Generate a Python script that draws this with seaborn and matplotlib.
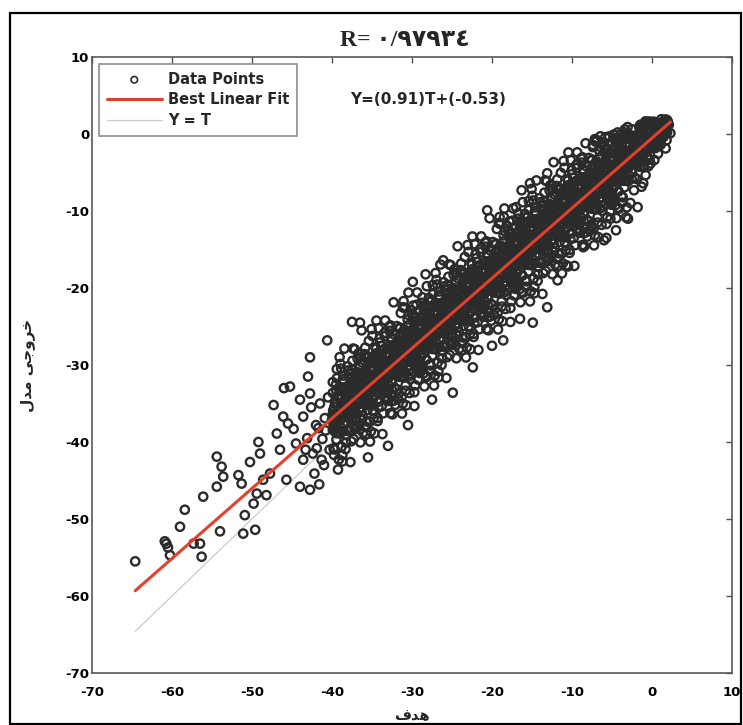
import matplotlib
matplotlib.use('Agg')
import matplotlib.pyplot as plt
from matplotlib.patches import Rectangle
import pandas as pd
import seaborn as sns


# regression summary shown on the chart
fit_slope = 0.91
fit_intercept = -0.53
r_title = 'R= \u0660/\u0669\u0667\u0669\u0663\u0664'
fit_text = 'Y=(0.91)T+(-0.53)'
x_label = '\ufed1\ufeaa\ufeeb'                                   # hadaf
y_label = '\ufedd\ufeaa\ufee3 \ufef0\ufe9f\ufeed\ufeae\ufea7'    # khorooji model
legend_labels = ['Data Points', 'Best Linear Fit', 'Y = T']
axis_ticks = [-70, -60, -50, -40, -30, -20, -10, 0, 10]

# (target, output) pairs

low_tail = [
    (-64.6, -55.5), (-60.7, -53.2), (-60.9, -52.9), (-60.5, -53.7), (-60.25, -54.7), (-59.0, -51.0),
    (-58.4, -48.8), (-57.3, -53.2), (-56.5, -53.2), (-56.3, -54.9), (-56.1, -47.1), (-54.0, -51.6),
    (-54.4, -41.9), (-53.8, -43.2), (-53.6, -44.5), (-54.4, -45.8), (-51.7, -44.3), (-51.3, -45.4),
    (-50.9, -49.5), (-51.1, -51.9), (-49.6, -51.4), (-50.25, -42.6), (-49.2, -40.0), (-49.0, -41.5),
    (-49.8, -48.0), (-49.4, -46.7), (-48.2, -46.9), (-48.6, -44.9), (-47.75, -44.1), (-46.9, -38.9),
    (-47.3, -35.2), (-46.1, -36.7), (-46.5, -41.0), (-45.7, -44.9), (-45.25, -32.8), (-44.0, -34.5),
    (-43.6, -36.7), (-43.6, -42.3), (-42.75, -46.2), (-44.0, -45.8), (-42.75, -33.7), (-44.5, -40.2),
    (-43.1, -39.5), (-42.2, -44.1), (-41.6, -45.5), (-41.0, -43.0), (-42.0, -37.8), (-43.0, -31.5),
    (-41.5, -35.0), (-40.6, -26.8), (-42.75, -29.0), (-40.3, -41.0), (-40.8, -38.5), (-41.9, -40.8),
    (-44.8, -38.3), (-45.5, -37.6), (-46.0, -33.0), (-41.2, -39.6), (-40.9, -36.9), (-41.7, -38.2),
    (-42.4, -41.5), (-40.5, -34.2), (-41.3, -42.3), (-43.3, -41.0), (-42.6, -35.5),
]

band_low = [
    (-39.9, -33.63), (-39.7, -37.43), (-39.5, -35.03), (-39.3, -38.83), (-39.1, -35.73), (-39.8, -40.83),
    (-39.4, -31.73), (-39.6, -38.43), (-39.2, -33.93), (-40.0, -37.13), (-39.45, -39.68), (-39.85, -35.88),
    (-39.95, -36.48), (-39.8, -37.73), (-39.65, -34.78), (-39.5, -38.83), (-39.35, -35.38), (-39.2, -36.43),
    (-39.05, -33.38), (-39.9, -38.43), (-39.7, -35.43), (-39.55, -37.08), (-39.4, -38.23), (-39.25, -34.08),
    (-39.1, -38.83), (-39.75, -36.68), (-39.45, -33.38), (-39.15, -37.28),
    (-38.95, -37.17), (-38.75, -33.27), (-38.55, -38.57), (-38.35, -34.77), (-38.15, -35.67), (-38.65, -31.87),
    (-38.25, -40.07), (-38.05, -33.37), (-38.5, -37.72), (-38.85, -30.47), (-38.4, -35.32), (-38.7, -41.72),
    (-38.88, -36.40), (-38.72, -34.14), (-38.58, -37.60), (-38.42, -35.24), (-38.28, -33.00), (-38.12, -36.44),
    (-38.98, -38.90), (-38.82, -32.94), (-38.62, -34.94), (-38.48, -36.40), (-38.32, -34.34), (-38.18, -38.40),
    (-38.02, -33.64), (-38.52, -32.14), (-38.38, -35.50), (-38.92, -38.14),
    (-38.0, -34.11), (-37.8, -36.91), (-37.6, -31.81), (-37.4, -35.41), (-37.2, -33.81), (-37.9, -38.61),
    (-37.5, -30.61), (-37.7, -34.61), (-37.3, -39.61), (-37.1, -32.31), (-37.55, -35.96), (-37.15, -27.96),
    (-37.95, -34.66), (-37.8, -35.91), (-37.65, -32.96), (-37.5, -37.01), (-37.35, -33.56), (-37.2, -34.61),
    (-37.05, -31.56), (-37.9, -36.61), (-37.7, -33.61), (-37.55, -35.26), (-37.4, -36.41), (-37.25, -32.26),
    (-37.1, -37.01), (-37.75, -34.86), (-37.45, -31.56), (-37.15, -35.46),
    (-36.9, -30.9), (-36.7, -34.7), (-36.5, -32.3), (-36.3, -36.1), (-36.1, -33.0), (-36.8, -38.1),
    (-36.4, -29.0), (-36.6, -35.7), (-36.2, -31.2), (-37.0, -34.4), (-36.45, -36.95), (-36.85, -33.15),
    (-36.88, -34.58), (-36.72, -32.32), (-36.58, -35.78), (-36.42, -33.42), (-36.28, -31.18), (-36.12, -34.62),
    (-36.98, -37.08), (-36.82, -31.12), (-36.62, -33.12), (-36.48, -34.58), (-36.32, -32.52), (-36.18, -36.58),
    (-36.02, -31.82), (-36.52, -30.32), (-36.38, -33.68), (-36.92, -36.32),
    (-35.95, -34.44), (-35.75, -30.54), (-35.55, -35.84), (-35.35, -32.04), (-35.15, -32.94), (-35.65, -29.14),
    (-35.25, -37.34), (-35.05, -30.64), (-35.5, -34.99), (-35.85, -27.74), (-35.4, -32.59), (-35.7, -38.99),
    (-35.95, -32.84), (-35.8, -34.09), (-35.65, -31.14), (-35.5, -35.19), (-35.35, -31.74), (-35.2, -32.79),
    (-35.05, -29.74), (-35.9, -34.79), (-35.7, -31.79), (-35.55, -33.44), (-35.4, -34.59), (-35.25, -30.44),
    (-35.1, -35.19), (-35.75, -33.04), (-35.45, -29.74), (-35.15, -33.64),
    (-35.0, -31.38), (-34.8, -34.18), (-34.6, -29.08), (-34.4, -32.68), (-34.2, -31.08), (-34.9, -35.88),
    (-34.5, -27.88), (-34.7, -31.88), (-34.3, -36.88), (-34.1, -29.58), (-34.55, -33.23), (-34.15, -25.23),
    (-34.88, -32.76), (-34.72, -30.5), (-34.58, -33.96), (-34.42, -31.6), (-34.28, -29.36), (-34.12, -32.8),
    (-34.98, -35.26), (-34.82, -29.3), (-34.62, -31.3), (-34.48, -32.76), (-34.32, -30.7), (-34.18, -34.76),
    (-34.02, -30.0), (-34.52, -28.5), (-34.38, -31.86), (-34.92, -34.5),
    (-33.9, -28.17), (-33.7, -31.97), (-33.5, -29.57), (-33.3, -33.37), (-33.1, -30.27), (-33.8, -35.37),
    (-33.4, -26.27), (-33.6, -32.97), (-33.2, -28.47), (-34.0, -31.67), (-33.45, -34.22), (-33.85, -30.42),
    (-33.95, -31.02), (-33.8, -32.27), (-33.65, -29.32), (-33.5, -33.37), (-33.35, -29.92), (-33.2, -30.97),
    (-33.05, -27.92), (-33.9, -32.97), (-33.7, -29.97), (-33.55, -31.62), (-33.4, -32.77), (-33.25, -28.62),
    (-33.1, -33.37), (-33.75, -31.22), (-33.45, -27.92), (-33.15, -31.82),
    (-32.95, -31.71), (-32.75, -27.81), (-32.55, -33.11), (-32.35, -29.31), (-32.15, -30.21), (-32.65, -26.41),
    (-32.25, -34.61), (-32.05, -27.91), (-32.5, -32.26), (-32.85, -25.01), (-32.4, -29.86), (-32.7, -36.26),
    (-32.88, -30.94), (-32.72, -28.68), (-32.58, -32.14), (-32.42, -29.78), (-32.28, -27.54), (-32.12, -30.98),
    (-32.98, -33.44), (-32.82, -27.48), (-32.62, -29.48), (-32.48, -30.94), (-32.32, -28.88), (-32.18, -32.94),
    (-32.02, -28.18), (-32.52, -26.68), (-32.38, -30.04), (-32.92, -32.68),
    (-32.0, -28.65), (-31.8, -31.45), (-31.6, -26.35), (-31.4, -29.95), (-31.2, -28.35), (-31.9, -33.15),
    (-31.5, -25.15), (-31.7, -29.15), (-31.3, -34.15), (-31.1, -26.85), (-31.55, -30.5), (-31.15, -22.5),
    (-31.95, -29.2), (-31.8, -30.45), (-31.65, -27.5), (-31.5, -31.55), (-31.35, -28.1), (-31.2, -29.15),
    (-31.05, -26.1), (-31.9, -31.15), (-31.7, -28.15), (-31.55, -29.8), (-31.4, -30.95), (-31.25, -26.8),
    (-31.1, -31.55), (-31.75, -29.4), (-31.45, -26.1), (-31.15, -30.0),
    (-30.9, -25.44), (-30.7, -29.24), (-30.5, -26.84), (-30.3, -30.64), (-30.1, -27.54), (-30.8, -32.64),
    (-30.4, -23.54), (-30.6, -30.24), (-30.2, -25.74), (-31.0, -28.94), (-30.45, -31.49), (-30.85, -27.69),
    (-30.88, -29.12), (-30.72, -26.86), (-30.58, -30.32), (-30.42, -27.96), (-30.28, -25.72), (-30.12, -29.16),
    (-30.98, -31.62), (-30.82, -25.66), (-30.62, -27.66), (-30.48, -29.12), (-30.32, -27.06), (-30.18, -31.12),
    (-30.02, -26.36), (-30.52, -24.86), (-30.38, -28.22), (-30.92, -30.86),
    (-29.95, -28.98), (-29.75, -25.08), (-29.55, -30.38), (-29.35, -26.58), (-29.15, -27.48), (-29.65, -23.68),
    (-29.25, -31.88), (-29.05, -25.18), (-29.5, -29.53), (-29.85, -22.28), (-29.4, -27.13), (-29.7, -33.53),
    (-29.95, -27.38), (-29.8, -28.63), (-29.65, -25.68), (-29.5, -29.73), (-29.35, -26.28), (-29.2, -27.33),
    (-29.05, -24.28), (-29.9, -29.33), (-29.7, -26.33), (-29.55, -27.98), (-29.4, -29.13), (-29.25, -24.98),
    (-29.1, -29.73), (-29.75, -27.58), (-29.45, -24.28), (-29.15, -28.18),
    (-29.0, -25.92), (-28.8, -28.72), (-28.6, -23.62), (-28.4, -27.22), (-28.2, -25.62), (-28.9, -30.42),
    (-28.5, -22.42), (-28.7, -26.42), (-28.3, -31.42), (-28.1, -24.12), (-28.55, -27.77), (-28.15, -19.77),
    (-28.88, -27.3), (-28.72, -25.04), (-28.58, -28.5), (-28.42, -26.14), (-28.28, -23.9), (-28.12, -27.34),
    (-28.98, -29.8), (-28.82, -23.84), (-28.62, -25.84), (-28.48, -27.3), (-28.32, -25.24), (-28.18, -29.3),
    (-28.02, -24.54), (-28.52, -23.04), (-28.38, -26.4), (-28.92, -29.04),
    (-27.9, -22.71), (-27.7, -26.51), (-27.5, -24.11), (-27.3, -27.91), (-27.1, -24.81), (-27.8, -29.91),
    (-27.4, -20.81), (-27.6, -27.51), (-27.2, -23.01), (-28.0, -26.21), (-27.45, -28.76), (-27.85, -24.96),
    (-27.95, -25.56), (-27.8, -26.81), (-27.65, -23.86), (-27.5, -27.91), (-27.35, -24.46), (-27.2, -25.51),
    (-27.05, -22.46), (-27.9, -27.51), (-27.7, -24.51), (-27.55, -26.16), (-27.4, -27.31), (-27.25, -23.16),
    (-27.1, -27.91), (-27.75, -25.76), (-27.45, -22.46), (-27.15, -26.36),
]

band_mid = [
    (-26.95, -26.25), (-26.75, -22.35), (-26.55, -27.65), (-26.35, -23.85), (-26.15, -24.75), (-26.65, -20.95),
    (-26.25, -29.15), (-26.05, -22.45), (-26.5, -26.8), (-26.85, -19.55), (-26.4, -24.4), (-26.7, -30.8),
    (-26.88, -25.48), (-26.72, -23.22), (-26.58, -26.68), (-26.42, -24.32), (-26.28, -22.08), (-26.12, -25.52),
    (-26.98, -27.98), (-26.82, -22.02), (-26.62, -24.02), (-26.48, -25.48), (-26.32, -23.42), (-26.18, -27.48),
    (-26.02, -22.72), (-26.52, -21.22), (-26.38, -24.58), (-26.92, -27.22),
    (-26.0, -23.19), (-25.8, -25.99), (-25.6, -20.89), (-25.4, -24.49), (-25.2, -22.89), (-25.9, -27.69),
    (-25.5, -19.69), (-25.7, -23.69), (-25.3, -28.69), (-25.1, -21.39), (-25.55, -25.04), (-25.15, -17.04),
    (-25.95, -23.74), (-25.8, -24.99), (-25.65, -22.04), (-25.5, -26.09), (-25.35, -22.64), (-25.2, -23.69),
    (-25.05, -20.64), (-25.9, -25.69), (-25.7, -22.69), (-25.55, -24.34), (-25.4, -25.49), (-25.25, -21.34),
    (-25.1, -26.09), (-25.75, -23.94), (-25.45, -20.64), (-25.15, -24.54),
    (-24.9, -19.98), (-24.7, -23.78), (-24.5, -21.38), (-24.3, -25.18), (-24.1, -22.08), (-24.8, -27.18),
    (-24.4, -18.08), (-24.6, -24.78), (-24.2, -20.28), (-25.0, -23.48), (-24.45, -26.03), (-24.85, -22.23),
    (-24.88, -23.66), (-24.72, -21.4), (-24.58, -24.86), (-24.42, -22.5), (-24.28, -20.26), (-24.12, -23.7),
    (-24.98, -26.16), (-24.82, -20.2), (-24.62, -22.2), (-24.48, -23.66), (-24.32, -21.6), (-24.18, -25.66),
    (-24.02, -20.9), (-24.52, -19.4), (-24.38, -22.76), (-24.92, -25.4),
    (-23.95, -23.52), (-23.75, -19.62), (-23.55, -24.92), (-23.35, -21.12), (-23.15, -22.02), (-23.65, -18.22),
    (-23.25, -26.42), (-23.05, -19.72), (-23.5, -24.07), (-23.85, -16.82), (-23.4, -21.67), (-23.7, -28.07),
    (-23.95, -21.92), (-23.8, -23.17), (-23.65, -20.22), (-23.5, -24.27), (-23.35, -20.82), (-23.2, -21.87),
    (-23.05, -18.82), (-23.9, -23.87), (-23.7, -20.87), (-23.55, -22.52), (-23.4, -23.67), (-23.25, -19.52),
    (-23.1, -24.27), (-23.75, -22.12), (-23.45, -18.82), (-23.15, -22.72),
    (-23.0, -20.46), (-22.8, -23.26), (-22.6, -18.16), (-22.4, -21.76), (-22.2, -20.16), (-22.9, -24.96),
    (-22.5, -16.96), (-22.7, -20.96), (-22.3, -25.96), (-22.1, -18.66), (-22.55, -22.31), (-22.15, -14.31),
    (-22.88, -21.84), (-22.72, -19.58), (-22.58, -23.04), (-22.42, -20.68), (-22.28, -18.44), (-22.12, -21.88),
    (-22.98, -24.34), (-22.82, -18.38), (-22.62, -20.38), (-22.48, -21.84), (-22.32, -19.78), (-22.18, -23.84),
    (-22.02, -19.08), (-22.52, -17.58), (-22.38, -20.94), (-22.92, -23.58),
    (-21.9, -17.25), (-21.7, -21.05), (-21.5, -18.65), (-21.3, -22.45), (-21.1, -19.35), (-21.8, -24.45),
    (-21.4, -15.35), (-21.6, -22.05), (-21.2, -17.55), (-22.0, -20.75), (-21.45, -23.3), (-21.85, -19.5),
    (-21.95, -20.1), (-21.8, -21.35), (-21.65, -18.4), (-21.5, -22.45), (-21.35, -19.0), (-21.2, -20.05),
    (-21.05, -17.0), (-21.9, -22.05), (-21.7, -19.05), (-21.55, -20.7), (-21.4, -21.85), (-21.25, -17.7),
    (-21.1, -22.45), (-21.75, -20.3), (-21.45, -17.0), (-21.15, -20.9),
    (-20.95, -20.79), (-20.75, -16.89), (-20.55, -22.19), (-20.35, -18.39), (-20.15, -19.29), (-20.65, -15.49),
    (-20.25, -23.69), (-20.05, -16.99), (-20.5, -21.34), (-20.85, -14.09), (-20.4, -18.94), (-20.7, -25.34),
    (-20.88, -20.02), (-20.72, -17.76), (-20.58, -21.22), (-20.42, -18.86), (-20.28, -16.62), (-20.12, -20.06),
    (-20.98, -22.52), (-20.82, -16.56), (-20.62, -18.56), (-20.48, -20.02), (-20.32, -17.96), (-20.18, -22.02),
    (-20.02, -17.26), (-20.52, -15.76), (-20.38, -19.12), (-20.92, -21.76),
    (-20.0, -17.73), (-19.8, -20.53), (-19.6, -15.43), (-19.4, -19.03), (-19.2, -17.43), (-19.9, -22.23),
    (-19.5, -14.23), (-19.7, -18.23), (-19.3, -23.23), (-19.1, -15.93), (-19.55, -19.58), (-19.15, -11.58),
    (-19.95, -18.28), (-19.8, -19.53), (-19.65, -16.58), (-19.5, -20.63), (-19.35, -17.18), (-19.2, -18.23),
    (-19.05, -15.18), (-19.9, -20.23), (-19.7, -17.23), (-19.55, -18.88), (-19.4, -20.03), (-19.25, -15.88),
    (-19.1, -20.63), (-19.75, -18.48), (-19.45, -15.18), (-19.15, -19.08),
    (-18.9, -14.52), (-18.7, -18.32), (-18.5, -15.92), (-18.3, -19.72), (-18.1, -16.62), (-18.8, -21.72),
    (-18.4, -12.62), (-18.6, -19.32), (-18.2, -14.82), (-19.0, -18.02), (-18.45, -20.57), (-18.85, -16.77),
    (-18.88, -18.2), (-18.72, -15.94), (-18.58, -19.4), (-18.42, -17.04), (-18.28, -14.8), (-18.12, -18.24),
    (-18.98, -20.7), (-18.82, -14.74), (-18.62, -16.74), (-18.48, -18.2), (-18.32, -16.14), (-18.18, -20.2),
    (-18.02, -15.44), (-18.52, -13.94), (-18.38, -17.3), (-18.92, -19.94),
    (-17.95, -18.06), (-17.75, -14.16), (-17.55, -19.46), (-17.35, -15.66), (-17.15, -16.56), (-17.65, -12.76),
    (-17.25, -20.96), (-17.05, -14.26), (-17.5, -18.61), (-17.85, -11.36), (-17.4, -16.21), (-17.7, -22.61),
    (-17.95, -16.46), (-17.8, -17.71), (-17.65, -14.76), (-17.5, -18.81), (-17.35, -15.36), (-17.2, -16.41),
    (-17.05, -13.36), (-17.9, -18.41), (-17.7, -15.41), (-17.55, -17.06), (-17.4, -18.21), (-17.25, -14.06),
    (-17.1, -18.81), (-17.75, -16.66), (-17.45, -13.36), (-17.15, -17.26),
    (-17.0, -15.0), (-16.8, -17.8), (-16.6, -12.7), (-16.4, -16.3), (-16.2, -14.7), (-16.9, -19.5),
    (-16.5, -11.5), (-16.7, -15.5), (-16.3, -20.5), (-16.1, -13.2), (-16.55, -16.85), (-16.15, -8.85),
    (-16.88, -16.38), (-16.72, -14.12), (-16.58, -17.58), (-16.42, -15.22), (-16.28, -12.98), (-16.12, -16.42),
    (-16.98, -18.88), (-16.82, -12.92), (-16.62, -14.92), (-16.48, -16.38), (-16.32, -14.32), (-16.18, -18.38),
    (-16.02, -13.62), (-16.52, -12.12), (-16.38, -15.48), (-16.92, -18.12),
    (-15.9, -11.79), (-15.7, -15.59), (-15.5, -13.19), (-15.3, -16.99), (-15.1, -13.89), (-15.8, -18.99),
    (-15.4, -9.89), (-15.6, -16.59), (-15.2, -12.09), (-16.0, -15.29), (-15.45, -17.84), (-15.85, -14.04),
    (-15.95, -14.64), (-15.8, -15.89), (-15.65, -12.94), (-15.5, -16.99), (-15.35, -13.54), (-15.2, -14.59),
    (-15.05, -11.54), (-15.9, -16.59), (-15.7, -13.59), (-15.55, -15.24), (-15.4, -16.39), (-15.25, -12.24),
    (-15.1, -16.99), (-15.75, -14.84), (-15.45, -11.54), (-15.15, -15.44),
    (-14.95, -15.33), (-14.75, -11.43), (-14.55, -16.73), (-14.35, -12.93), (-14.15, -13.83), (-14.65, -10.03),
    (-14.25, -18.23), (-14.05, -11.53), (-14.5, -15.88), (-14.85, -8.63), (-14.4, -13.48), (-14.7, -19.88),
    (-14.88, -14.56), (-14.72, -12.3), (-14.58, -15.76), (-14.42, -13.4), (-14.28, -11.16), (-14.12, -14.6),
    (-14.98, -17.06), (-14.82, -11.1), (-14.62, -13.1), (-14.48, -14.56), (-14.32, -12.5), (-14.18, -16.56),
    (-14.02, -11.8), (-14.52, -10.3), (-14.38, -13.66), (-14.92, -16.3),
    (-14.0, -12.27), (-13.8, -15.07), (-13.6, -9.97), (-13.4, -13.57), (-13.2, -11.97), (-13.9, -16.77),
    (-13.5, -8.77), (-13.7, -12.77), (-13.3, -17.77), (-13.1, -10.47), (-13.55, -14.12), (-13.15, -6.12),
    (-13.95, -12.82), (-13.8, -14.07), (-13.65, -11.12), (-13.5, -15.17), (-13.35, -11.72), (-13.2, -12.77),
    (-13.05, -9.72), (-13.9, -14.77), (-13.7, -11.77), (-13.55, -13.42), (-13.4, -14.57), (-13.25, -10.42),
    (-13.1, -15.17), (-13.75, -13.02), (-13.45, -9.72), (-13.15, -13.62),
]

band_top = [
    (-12.9, -9.06), (-12.7, -12.86), (-12.5, -10.46), (-12.3, -14.26), (-12.1, -11.16), (-12.8, -16.26),
    (-12.4, -7.16), (-12.6, -13.86), (-12.2, -9.36), (-13.0, -12.56), (-12.45, -15.11), (-12.85, -11.31),
    (-12.88, -12.74), (-12.72, -10.48), (-12.58, -13.94), (-12.42, -11.58), (-12.28, -9.34), (-12.12, -12.78),
    (-12.98, -15.24), (-12.82, -9.28), (-12.62, -11.28), (-12.48, -12.74), (-12.32, -10.68), (-12.18, -14.74),
    (-12.02, -9.98), (-12.52, -8.48), (-12.38, -11.84), (-12.92, -14.48),
    (-11.95, -12.6), (-11.75, -8.7), (-11.55, -14.0), (-11.35, -10.2), (-11.15, -11.1), (-11.65, -7.3),
    (-11.25, -15.5), (-11.05, -8.8), (-11.5, -13.15), (-11.85, -5.9), (-11.4, -10.75), (-11.7, -17.15),
    (-11.95, -11.0), (-11.8, -12.25), (-11.65, -9.3), (-11.5, -13.35), (-11.35, -9.9), (-11.2, -10.95),
    (-11.05, -7.9), (-11.9, -12.95), (-11.7, -9.95), (-11.55, -11.6), (-11.4, -12.75), (-11.25, -8.6),
    (-11.1, -13.35), (-11.75, -11.2), (-11.45, -7.9), (-11.15, -11.8),
    (-11.0, -9.54), (-10.8, -12.34), (-10.6, -7.24), (-10.4, -10.84), (-10.2, -9.24), (-10.9, -14.04),
    (-10.5, -6.04), (-10.7, -10.04), (-10.3, -15.04), (-10.1, -7.74), (-10.55, -11.39), (-10.15, -3.39),
    (-10.88, -10.92), (-10.72, -8.66), (-10.58, -12.12), (-10.42, -9.76), (-10.28, -7.52), (-10.12, -10.96),
    (-10.98, -13.42), (-10.82, -7.46), (-10.62, -9.46), (-10.48, -10.92), (-10.32, -8.86), (-10.18, -12.92),
    (-10.02, -8.16), (-10.52, -6.66), (-10.38, -10.02), (-10.92, -12.66),
    (-9.9, -6.33), (-9.7, -10.13), (-9.5, -7.73), (-9.3, -11.53), (-9.1, -8.43), (-9.8, -13.53),
    (-9.4, -4.43), (-9.6, -11.13), (-9.2, -6.63), (-10.0, -9.83), (-9.45, -12.38), (-9.85, -8.58),
    (-9.95, -9.18), (-9.8, -10.43), (-9.65, -7.48), (-9.5, -11.53), (-9.35, -8.08), (-9.2, -9.13),
    (-9.05, -6.08), (-9.9, -11.13), (-9.7, -8.13), (-9.55, -9.78), (-9.4, -10.93), (-9.25, -6.78),
    (-9.1, -11.53), (-9.75, -9.38), (-9.45, -6.08), (-9.15, -9.98),
    (-8.95, -9.87), (-8.75, -5.97), (-8.55, -11.27), (-8.35, -7.47), (-8.15, -8.37), (-8.65, -4.57),
    (-8.25, -12.77), (-8.05, -6.07), (-8.5, -10.42), (-8.85, -3.17), (-8.4, -8.02), (-8.7, -14.42),
    (-8.88, -9.1), (-8.72, -6.84), (-8.58, -10.3), (-8.42, -7.94), (-8.28, -5.7), (-8.12, -9.14),
    (-8.98, -11.6), (-8.82, -5.64), (-8.62, -7.64), (-8.48, -9.1), (-8.32, -7.04), (-8.18, -11.1),
    (-8.02, -6.34), (-8.52, -4.84), (-8.38, -8.2), (-8.92, -10.84),
    (-8.0, -6.81), (-7.8, -9.61), (-7.6, -4.51), (-7.4, -8.11), (-7.2, -6.51), (-7.9, -11.31),
    (-7.5, -3.31), (-7.7, -7.31), (-7.3, -12.31), (-7.1, -5.01), (-7.55, -8.66), (-7.15, -0.66),
    (-7.95, -7.36), (-7.8, -8.61), (-7.65, -5.66), (-7.5, -9.71), (-7.35, -6.26), (-7.2, -7.31),
    (-7.05, -4.26), (-7.9, -9.31), (-7.7, -6.31), (-7.55, -7.96), (-7.4, -9.11), (-7.25, -4.96),
    (-7.1, -9.71), (-7.75, -7.56), (-7.45, -4.26), (-7.15, -8.16),
    (-6.9, -3.6), (-6.7, -7.4), (-6.5, -5.0), (-6.3, -8.8), (-6.1, -5.7), (-6.8, -10.8),
    (-6.4, -1.7), (-6.6, -8.4), (-6.2, -3.9), (-7.0, -7.1), (-6.45, -9.65), (-6.85, -5.85),
    (-6.88, -7.28), (-6.72, -5.02), (-6.58, -8.48), (-6.42, -6.12), (-6.28, -3.88), (-6.12, -7.32),
    (-6.98, -9.78), (-6.82, -3.82), (-6.62, -5.82), (-6.48, -7.28), (-6.32, -5.22), (-6.18, -9.28),
    (-6.02, -4.52), (-6.52, -3.02), (-6.38, -6.38), (-6.92, -9.02),
    (-5.95, -7.14), (-5.75, -3.24), (-5.55, -8.54), (-5.35, -4.74), (-5.15, -5.64), (-5.65, -1.84),
    (-5.25, -10.04), (-5.05, -3.34), (-5.5, -7.69), (-5.85, -0.44), (-5.4, -5.29), (-5.7, -11.69),
    (-5.95, -5.54), (-5.8, -6.79), (-5.65, -3.84), (-5.5, -7.89), (-5.35, -4.44), (-5.2, -5.49),
    (-5.05, -2.44), (-5.9, -7.49), (-5.7, -4.49), (-5.55, -6.14), (-5.4, -7.29), (-5.25, -3.14),
    (-5.1, -7.89), (-5.75, -5.74), (-5.45, -2.44), (-5.15, -6.34),
    (-5.0, -4.08), (-4.8, -6.88), (-4.6, -1.78), (-4.4, -5.38), (-4.2, -3.78), (-4.9, -8.58),
    (-4.5, -0.58), (-4.7, -4.58), (-4.3, -9.58), (-4.1, -2.28), (-4.55, -5.93), (-4.15, -1.08),
    (-4.88, -5.46), (-4.72, -3.2), (-4.58, -6.66), (-4.42, -4.3), (-4.28, -2.06), (-4.12, -5.5),
    (-4.98, -7.96), (-4.82, -2.0), (-4.62, -4.0), (-4.48, -5.46), (-4.32, -3.4), (-4.18, -7.46),
    (-4.02, -2.7), (-4.52, -1.2), (-4.38, -4.56), (-4.92, -7.2),
    (-3.9, -0.87), (-3.7, -4.67), (-3.5, -2.27), (-3.3, -6.07), (-3.1, -2.97), (-3.8, -8.07),
    (-3.4, -0.2), (-3.6, -5.67), (-3.2, -1.17), (-4.0, -4.37), (-3.45, -6.92), (-3.85, -3.12),
    (-3.95, -3.72), (-3.8, -4.97), (-3.65, -2.02), (-3.5, -6.07), (-3.35, -2.62), (-3.2, -3.67),
    (-3.05, -0.62), (-3.9, -5.67), (-3.7, -2.67), (-3.55, -4.32), (-3.4, -5.47), (-3.25, -1.32),
    (-3.1, -6.07), (-3.75, -3.92), (-3.45, -0.62), (-3.15, -4.52),
    (-2.95, -4.41), (-2.75, -0.51), (-2.55, -5.81), (-2.35, -2.01), (-2.15, -2.91), (-2.65, -0.2),
    (-2.25, -7.31), (-2.05, -0.61), (-2.5, -4.96), (-2.85, -0.4), (-2.4, -2.56), (-2.7, -8.96),
    (-2.88, -3.64), (-2.72, -1.38), (-2.58, -4.84), (-2.42, -2.48), (-2.28, -0.24), (-2.12, -3.68),
    (-2.98, -6.14), (-2.82, -0.18), (-2.62, -2.18), (-2.48, -3.64), (-2.32, -1.58), (-2.18, -5.64),
    (-2.02, -0.88), (-2.52, 0.62), (-2.38, -2.74), (-2.92, -5.38),
    (-2.0, -1.35), (-1.8, -4.15), (-1.6, 0.95), (-1.4, -2.65), (-1.2, -1.05), (-1.9, -5.85),
    (-1.5, 0.8), (-1.7, -1.85), (-1.3, -6.85), (-1.1, 0.45), (-1.55, -3.2), (-1.15, 1.2),
    (-1.95, -1.9), (-1.8, -3.15), (-1.65, -0.2), (-1.5, -4.25), (-1.35, -0.8), (-1.2, -1.85),
    (-1.05, 1.2), (-1.9, -3.85), (-1.7, -0.85), (-1.55, -2.5), (-1.4, -3.65), (-1.25, 0.5),
    (-1.1, -4.25), (-1.75, -2.1), (-1.45, 1.2), (-1.15, -2.7),
    (-0.9, 1.2), (-0.7, -1.94), (-0.5, 0.46), (-0.3, -3.34), (-0.1, -0.24), (-0.8, -5.34),
    (-0.4, 1.5), (-0.6, -2.94), (-0.2, 1.56), (-1.0, -1.64), (-0.45, -4.19), (-0.85, -0.39),
    (-0.88, -1.82), (-0.72, 0.44), (-0.58, -3.02), (-0.42, -0.66), (-0.28, 1.58), (-0.12, -1.86),
    (-0.98, -4.32), (-0.82, 1.64), (-0.62, -0.36), (-0.48, -1.82), (-0.32, 0.24), (-0.18, -3.82),
    (-0.02, 0.94), (-0.52, 1.6), (-0.38, -0.92), (-0.92, -3.56),
    (0.05, -1.11), (0.25, 0.85), (0.45, -1.81), (0.65, 0.1), (0.85, -0.35), (0.35, 1.55),
    (0.75, -2.56), (0.95, 0.8), (0.5, -1.38), (0.15, 1.6), (0.6, -0.18), (0.3, -3.38),
    (0.05, -0.3), (0.2, -0.93), (0.35, 0.55), (0.5, -1.48), (0.65, 0.25), (0.8, -0.28),
    (0.95, 1.25), (0.1, -1.28), (0.3, 0.22), (0.45, -0.61), (0.6, -1.18), (0.75, 0.9),
    (0.9, -1.48), (0.25, -0.4), (0.55, 1.25), (0.85, -0.71),
    (1.0, 0.88), (1.2, -0.52), (1.4, 1.6), (1.6, 0.23), (1.8, 1.03), (1.1, -1.37),
    (1.5, 1.4), (1.3, 0.63), (1.7, -1.87), (1.9, 1.78), (1.45, -0.05), (1.85, 1.3),
    (1.12, 0.19), (1.28, 1.32), (1.42, -0.41), (1.58, 0.77), (1.72, 1.89), (1.88, 0.17),
    (1.02, -1.06), (1.18, 1.92), (1.38, 0.92), (1.52, 0.19), (1.68, 1.22), (1.82, -0.81),
    (1.98, 1.57), (1.48, 1.7), (1.62, 0.64), (1.08, -0.68),
]

# sparser circles on both rims of the band
band_edge = [
    (-39.9, -32.23), (-39.65, -40.98), (-39.4, -30.53), (-39.15, -42.28), (-39.75, -41.68), (-39.5, -32.53), (-39.25, -43.58), (-39.05, -28.98),
    (-38.8, -40.62), (-38.55, -31.37), (-38.3, -40.92), (-38.05, -30.17), (-38.95, -29.87), (-38.7, -42.52), (-38.45, -27.87), (-38.2, -39.12),
    (-37.85, -31.16), (-37.6, -39.91), (-37.35, -27.86), (-37.1, -38.31), (-37.7, -42.61), (-37.45, -29.46), (-37.2, -37.91), (-38.0, -30.71),
    (-36.95, -38.05), (-36.7, -28.5), (-36.45, -40.05), (-36.2, -29.7), (-36.8, -29.2), (-36.55, -38.35), (-36.3, -25.5), (-36.1, -38.8),
    (-35.9, -28.59), (-35.65, -37.34), (-35.4, -26.89), (-35.15, -38.64), (-35.75, -38.04), (-35.5, -28.89), (-35.25, -39.94), (-35.05, -25.34),
    (-34.8, -36.98), (-34.55, -27.73), (-34.3, -37.28), (-34.05, -26.53), (-34.95, -26.23), (-34.7, -38.88), (-34.45, -24.23), (-34.2, -35.48),
    (-33.85, -27.52), (-33.6, -36.27), (-33.35, -24.22), (-33.1, -34.67), (-33.7, -38.97), (-33.45, -25.82), (-33.2, -34.27), (-34.0, -27.07),
    (-32.95, -34.41), (-32.7, -24.86), (-32.45, -36.41), (-32.2, -26.06), (-32.8, -25.56), (-32.55, -34.71), (-32.3, -21.86), (-32.1, -35.16),
    (-31.9, -24.95), (-31.65, -33.7), (-31.4, -23.25), (-31.15, -35.0), (-31.75, -34.4), (-31.5, -25.25), (-31.25, -36.3), (-31.05, -21.7),
    (-30.8, -33.34), (-30.55, -24.09), (-30.3, -33.64), (-30.05, -22.89), (-30.95, -22.59), (-30.7, -35.24), (-30.45, -20.59), (-30.2, -31.84),
    (-29.85, -23.88), (-29.6, -32.63), (-29.35, -20.58), (-29.1, -31.03), (-29.7, -35.33), (-29.45, -22.18), (-29.2, -30.63), (-30.0, -23.43),
    (-28.95, -30.77), (-28.7, -21.22), (-28.45, -32.77), (-28.2, -22.42), (-28.8, -21.92), (-28.55, -31.07), (-28.3, -18.22), (-28.1, -31.52),
    (-27.9, -21.31), (-27.65, -30.06), (-27.4, -19.61), (-27.15, -31.36), (-27.75, -30.76), (-27.5, -21.61), (-27.25, -32.66), (-27.05, -18.06),
    (-26.8, -29.7), (-26.55, -20.45), (-26.3, -30.0), (-26.05, -19.25), (-26.95, -18.95), (-26.7, -31.6), (-26.45, -16.95), (-26.2, -28.2),
    (-25.85, -20.24), (-25.6, -28.99), (-25.35, -16.94), (-25.1, -27.39), (-25.7, -31.69), (-25.45, -18.54), (-25.2, -26.99), (-26.0, -19.79),
    (-24.95, -27.13), (-24.7, -17.58), (-24.45, -29.13), (-24.2, -18.78), (-24.8, -18.28), (-24.55, -27.43), (-24.3, -14.58), (-24.1, -27.88),
    (-23.9, -17.67), (-23.65, -26.42), (-23.4, -15.97), (-23.15, -27.72), (-23.75, -27.12), (-23.5, -17.97), (-23.25, -29.02), (-23.05, -14.42),
    (-22.8, -26.06), (-22.55, -16.81), (-22.3, -26.36), (-22.05, -15.61), (-22.95, -15.31), (-22.7, -27.96), (-22.45, -13.31), (-22.2, -24.56),
    (-21.85, -16.6), (-21.6, -25.35), (-21.35, -13.3), (-21.1, -23.75), (-21.7, -28.05), (-21.45, -14.9), (-21.2, -23.35), (-22.0, -16.15),
    (-20.95, -23.49), (-20.7, -13.94), (-20.45, -25.49), (-20.2, -15.14), (-20.8, -14.64), (-20.55, -23.79), (-20.3, -10.94), (-20.1, -24.24),
    (-19.9, -14.03), (-19.65, -22.78), (-19.4, -12.33), (-19.15, -24.08), (-19.75, -23.48), (-19.5, -14.33), (-19.25, -25.38), (-19.05, -10.78),
    (-18.8, -22.42), (-18.55, -13.17), (-18.3, -22.72), (-18.05, -11.97), (-18.95, -11.67), (-18.7, -24.32), (-18.45, -9.67), (-18.2, -20.92),
    (-17.85, -12.96), (-17.6, -21.71), (-17.35, -9.66), (-17.1, -20.11), (-17.7, -24.41), (-17.45, -11.26), (-17.2, -19.71), (-18.0, -12.51),
    (-16.95, -19.85), (-16.7, -10.3), (-16.45, -21.85), (-16.2, -11.5), (-16.8, -11.0), (-16.55, -20.15), (-16.3, -7.3), (-16.1, -20.6),
    (-15.9, -10.39), (-15.65, -19.14), (-15.4, -8.69), (-15.15, -20.44), (-15.75, -19.84), (-15.5, -10.69), (-15.25, -21.74), (-15.05, -7.14),
    (-14.8, -18.78), (-14.55, -9.53), (-14.3, -19.08), (-14.05, -8.33), (-14.95, -8.03), (-14.7, -20.68), (-14.45, -6.03), (-14.2, -17.28),
    (-13.85, -9.32), (-13.6, -18.07), (-13.35, -6.02), (-13.1, -16.47), (-13.7, -20.77), (-13.45, -7.62), (-13.2, -16.07), (-14.0, -8.87),
    (-12.95, -16.21), (-12.7, -6.66), (-12.45, -18.21), (-12.2, -7.86), (-12.8, -7.36), (-12.55, -16.51), (-12.3, -3.66), (-12.1, -16.96),
    (-11.9, -6.75), (-11.65, -15.5), (-11.4, -5.05), (-11.15, -16.8), (-11.75, -16.2), (-11.5, -7.05), (-11.25, -18.1), (-11.05, -3.5),
    (-10.8, -15.14), (-10.55, -5.89), (-10.3, -15.44), (-10.05, -4.69), (-10.95, -4.39), (-10.7, -17.04), (-10.45, -2.39), (-10.2, -13.64),
    (-9.85, -5.68), (-9.6, -14.43), (-9.35, -2.38), (-9.1, -12.83), (-9.7, -17.13), (-9.45, -3.98), (-9.2, -12.43), (-10.0, -5.23),
    (-8.95, -12.57), (-8.7, -3.02), (-8.45, -14.57), (-8.2, -4.22), (-8.8, -3.72), (-8.55, -12.87), (-8.3, -1.2), (-8.1, -13.32),
    (-7.9, -3.11), (-7.65, -11.86), (-7.4, -1.41), (-7.15, -13.16), (-7.75, -12.56), (-7.5, -3.41), (-7.25, -14.46), (-7.05, -1.0),
    (-6.8, -11.5), (-6.55, -2.25), (-6.3, -11.8), (-6.05, -1.05), (-6.95, -0.75), (-6.7, -13.4), (-6.45, -0.3), (-6.2, -10.0),
    (-5.85, -2.04), (-5.6, -10.79), (-5.35, -0.4), (-5.1, -9.19), (-5.7, -13.49), (-5.45, -0.34), (-5.2, -8.79), (-6.0, -1.59),
    (-4.95, -8.93), (-4.7, -0.6), (-4.45, -10.93), (-4.2, -0.58), (-4.8, -0.08), (-4.55, -9.23), (-4.3, 0.2), (-4.1, -9.68),
    (-3.9, 0.0), (-3.65, -8.22), (-3.4, 0.6), (-3.15, -9.52), (-3.75, -8.92), (-3.5, 0.23), (-3.25, -10.82), (-3.05, 0.9),
]

stray = [
    (-37.5, -24.4), (-36.5, -24.5), (-29.9, -19.2), (-26.1, -16.4), (-20.6, -9.9), (-18.5, -10.8),
    (-17.0, -9.5), (-15.25, -6.4), (-13.1, -5.1), (-7.4, -1.7), (-8.6, -14.7), (-6.0, -13.8),
    (-4.5, -12.5), (-3.0, -11.0), (-1.8, -9.5), (-1.1, -6.4), (-7.5, -12.0), (-5.2, -11.0),
    (-10.5, -17.2), (-11.8, -19.0), (-13.1, -22.5), (-14.9, -24.5), (-16.5, -24.0), (-18.6, -26.8),
    (-20.0, -27.5), (-22.4, -30.3), (-24.9, -33.6), (-27.5, -34.5), (-30.5, -37.8), (-33.0, -40.5),
    (-35.5, -42.0), (2.3, 0.1), (2.1, 1.2),
]


points = pd.DataFrame(
    low_tail + band_low + band_mid + band_top + band_edge + stray,
    columns=['target', 'output']
)

t_ends = [points['target'].min(), points['target'].max()]
fit_line = pd.DataFrame({
    'target': t_ends,
    'output': [fit_slope * t + fit_intercept for t in t_ends]
})
ident_line = pd.DataFrame({'target': t_ends, 'output': t_ends})


sns.set_style('white')
plt.rcParams['font.family'] = ['DejaVu Sans']
plt.rcParams['axes.unicode_minus'] = False

fig = plt.figure(figsize=(7.43, 7.25), dpi=100)
ax = fig.add_axes([92 / 743, 52 / 725, 640 / 743, 616 / 725])

sns.scatterplot(
    data=points, x='target', y='output',
    marker='o', s=36, facecolor='none', edgecolor='#2b2b2b',
    linewidth=1.7, label=legend_labels[0], ax=ax, zorder=3
)

sns.lineplot(
    data=fit_line, x='target', y='output',
    color='#e2412b', linewidth=2.2, label=legend_labels[1],
    ax=ax, zorder=4
)

sns.lineplot(
    data=ident_line, x='target', y='output',
    color='#c9ccd0', linewidth=0.9, label=legend_labels[2],
    ax=ax, zorder=2
)

ax.set_xlim(-70, 10)
ax.set_ylim(-70, 10)
ax.set_xticks(axis_ticks)
ax.set_yticks(axis_ticks)

ax.tick_params(direction='in', length=4, width=1, color='#505050',
               top=True, right=True, labelsize=9.5, labelcolor='black')
ax.tick_params(axis='x', pad=9)
ax.tick_params(axis='y', pad=2)
for lbl in ax.get_xticklabels() + ax.get_yticklabels():
    lbl.set_fontweight('bold')

for spine in ax.spines.values():
    spine.set_color('#585858')
    spine.set_linewidth(1.2)

ax.set_xlabel(x_label, fontsize=10.5, fontweight='bold', labelpad=7)
ax.set_ylabel(y_label, fontsize=11, fontweight='bold', labelpad=22)

ax.set_title(
    r_title, fontsize=17, fontweight='bold',
    family=['Liberation Serif', 'DejaVu Sans'], pad=8, x=0.488
)

ax.text(-28, 4.5, fit_text, fontsize=11, fontweight='bold',
        ha='center', va='center')

leg = ax.legend(
    loc='upper left', frameon=True, fancybox=False,
    prop={'weight': 'bold', 'size': 10.5},
    handlelength=3.8, borderpad=0.5, labelspacing=0.4,
    handletextpad=0.4, borderaxespad=0.5
)
leg.get_frame().set_edgecolor('#707070')
leg.get_frame().set_linewidth(1.2)
leg.legend_handles[0].set_sizes([22])
leg.legend_handles[0].set_linewidth(1.2)

# outer frame round the whole figure
fig.patches.append(Rectangle(
    (10 / 743, 1 / 725), 731 / 743, 711 / 725,
    transform=fig.transFigure, fill=False,
    edgecolor='black', linewidth=1.6
))

fig.savefig('out.png', dpi=100)
